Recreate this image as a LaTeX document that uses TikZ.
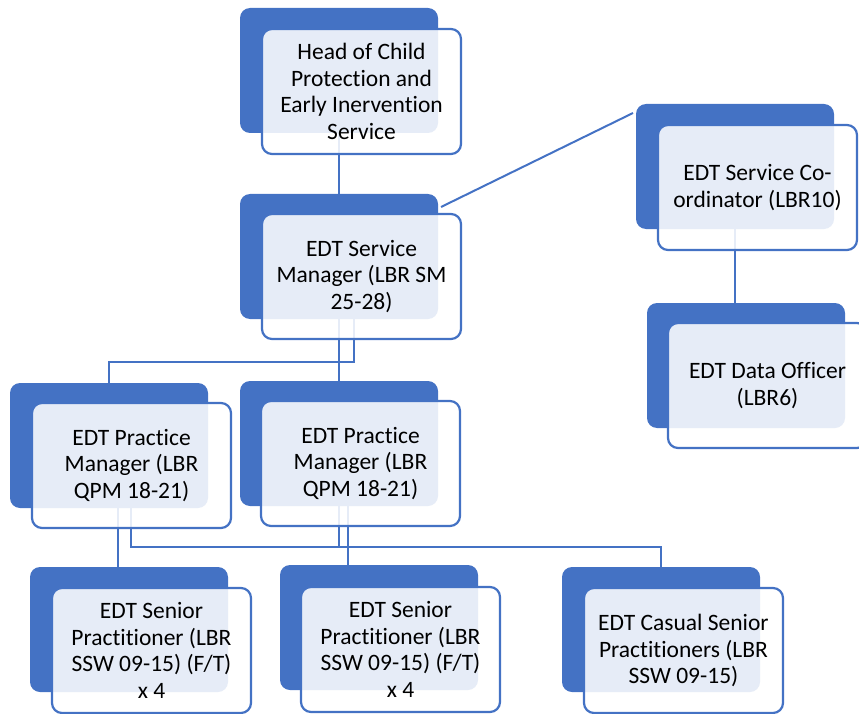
\documentclass[tikz,border=0pt]{standalone}
\usepackage{fontspec}
\setmainfont{Carlito}[Ligatures=NoCommon]
\definecolor{oblue}{HTML}{4472C4}
\pgfdeclarelayer{background}
\pgfsetlayers{background,main}
\begin{document}
\begin{tikzpicture}[x=1pt,y=-1pt,
 back/.style={rectangle, rounded corners=10pt, fill=oblue, draw=none, minimum width=198pt, minimum height=125pt, anchor=north west, inner sep=0pt, outer sep=0pt},
 front/.style={rectangle, rounded corners=10pt, fill=white, fill opacity=0.87, text opacity=1, draw=oblue, draw opacity=1, line width=2.2pt, minimum width=199pt, minimum height=125pt, anchor=north west, inner sep=0pt, outer sep=0pt, align=center, font=\fontsize{23.5}{26.5}\selectfont, text=black},
 link/.style={draw=oblue, line width=2pt}]
\useasboundingbox (0,0) rectangle (859,714);
\clip (0,0) rectangle (859,714);

\node[back] (b1) at (240,8) {};
\node[front] (f1) at (262,29) {Head of Child\\Protection and\\Early Inervention\\Service};
\node[back] (b2) at (240,194) {};
\node[front] (f2) at (262,214) {EDT Service\\Manager (LBR SM\\25-28)};
\node[back] (b3) at (636,104) {};
\node[front] (f3) at (658,125) {EDT Service Co-\\ordinator (LBR10)};
\node[back] (b4) at (647,303) {};
\node[front] (f4) at (668,323) {EDT Data Officer\\(LBR6)};
\node[back] (b5) at (10,383) {};
\node[front] (f5) at (32,403) {EDT Practice\\Manager (LBR\\QPM 18-21)};
\node[back] (b6) at (240,381) {};
\node[front] (f6) at (261,401) {EDT Practice\\Manager (LBR\\QPM 18-21)};
\node[back] (b7) at (30,567) {};
\node[front] (f7) at (52,588) {EDT Senior\\Practitioner (LBR\\SSW 09-15) (F/T)\\x 4};
\node[back] (b8) at (280,565) {};
\node[front] (f8) at (301,587) {EDT Senior\\Practitioner (LBR\\SSW 09-15) (F/T)\\x 4};
\node[back] (b9) at (562,567) {};
\node[front] (f9) at (584,588) {EDT Casual Senior\\Practitioners (LBR\\SSW 09-15)};

\begin{pgfonlayer}{background}
\draw[link] (b1.south) -- (b2.north);
\draw[link] ([shift={(3,13)}]b2.north east) -- ([shift={(-3,9)}]b3.north west);
\draw[link] (b3.south) -- (b3.south |- b4.north);
\draw[link] ([xshift=15pt]b2.south) -- ++(0,43) -| (b5.north);
\draw[link] (b2.south) -- (b2.south |- b6.north);
\draw[link] ([xshift=9pt]b5.south) -- ([xshift=9pt]b5.south |- b7.north);
\draw[link] ([xshift=22pt]b5.south) -- ++(0,39) -| (b9.north);
\draw[link] ([xshift=9pt]b6.south) -- ([xshift=9pt]b6.south |- b8.north);
\draw[link] (b6.south) -- ++(0,41) -| (b9.north);
\end{pgfonlayer}
\end{tikzpicture}
\end{document}
